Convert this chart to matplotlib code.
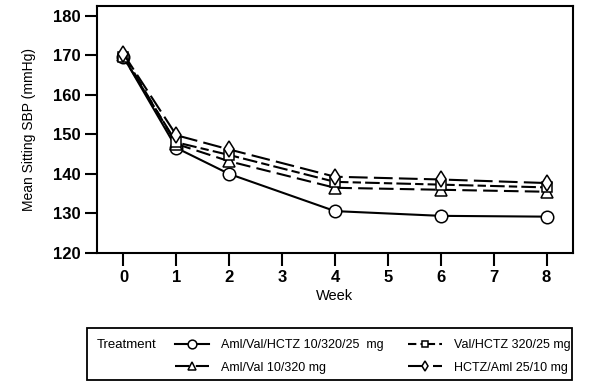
import matplotlib
matplotlib.use("Agg")
import matplotlib.pyplot as plt
from matplotlib.patches import Rectangle

weeks = [0, 1, 2, 4, 6, 8]
aml_val_hctz = [169.6, 146.6, 140.0, 130.6, 129.4, 129.2]
aml_val = [170.2, 147.6, 143.2, 136.5, 136.0, 135.5]
val_hctz = [169.5, 148.0, 144.8, 138.0, 137.3, 136.6]
hctz_aml = [170.4, 149.8, 146.2, 139.3, 138.6, 137.7]

series_labels = ["Aml/Val/HCTZ 10/320/25  mg", "Aml/Val 10/320 mg",
                 "Val/HCTZ 320/25 mg", "HCTZ/Aml 25/10 mg"]
x_ticks = [0, 1, 2, 3, 4, 5, 6, 7, 8]
y_ticks = [120, 130, 140, 150, 160, 170, 180]

plt.rcParams['font.family'] = ['Liberation Sans', 'DejaVu Sans']

fig = plt.figure(figsize=(5.97, 3.90), dpi=100)
ax = fig.add_axes([97/597, 1-253/390, (573-97)/597, (253-6)/390])

styles = [
    dict(marker='o', ms=9, dashes=None),
    dict(marker='^', ms=8, dashes=(7, 3)),
    dict(marker='s', ms=7, dashes=(4, 2, 7, 2)),
    dict(marker='d', ms=8, dashes=(9, 3)),
]
handles = []
for vals, st, lab in zip([aml_val_hctz, aml_val, val_hctz, hctz_aml], styles, series_labels):
    kw = dict(color='black', lw=1.5, marker=st['marker'], ms=st['ms'],
              mfc='white', mec='black', mew=1.1, label=lab)
    if st['dashes'] is not None:
        kw['dashes'] = st['dashes']
    line, = ax.plot(weeks, vals, **kw)
    handles.append(line)

ax.set_xlim(-0.5, 8.5)
ax.set_ylim(120, 182.5)
ax.set_xticks(x_ticks)
ax.set_yticks(y_ticks)
for lbl in ax.get_xticklabels() + ax.get_yticklabels():
    lbl.set_fontweight('bold')
    lbl.set_fontsize(12)
ax.tick_params(direction='out', length=9, width=1.5, pad=3)
for sp in ax.spines.values():
    sp.set_linewidth(1.5)
ax.set_xlabel("Week", fontsize=10.5, labelpad=3)
ax.set_ylabel("Mean Sitting SBP (mmHg)", fontsize=10, labelpad=12)

# legend frame
fig.add_artist(Rectangle((87/597, 1-380/390), (572-87)/597, (380-328)/390,
                         transform=fig.transFigure, fill=False, lw=1.3, ec='black'))
fig.text(97/597, 1-345/390, "Treatment", fontsize=9.5, va='center', ha='left')

leg_kw = dict(frameon=False, loc='upper left', fontsize=9, handlelength=2.7,
              handletextpad=1.0, labelspacing=0.85, borderpad=0, borderaxespad=0,
              markerscale=0.7)
leg1 = fig.legend(handles[0:2], series_labels[0:2],
                  bbox_to_anchor=(175/597, 1-339/390), **leg_kw)
leg2 = fig.legend(handles[2:4], series_labels[2:4],
                  bbox_to_anchor=(408/597, 1-339/390), **leg_kw)

fig.savefig("out.png", dpi=100)
